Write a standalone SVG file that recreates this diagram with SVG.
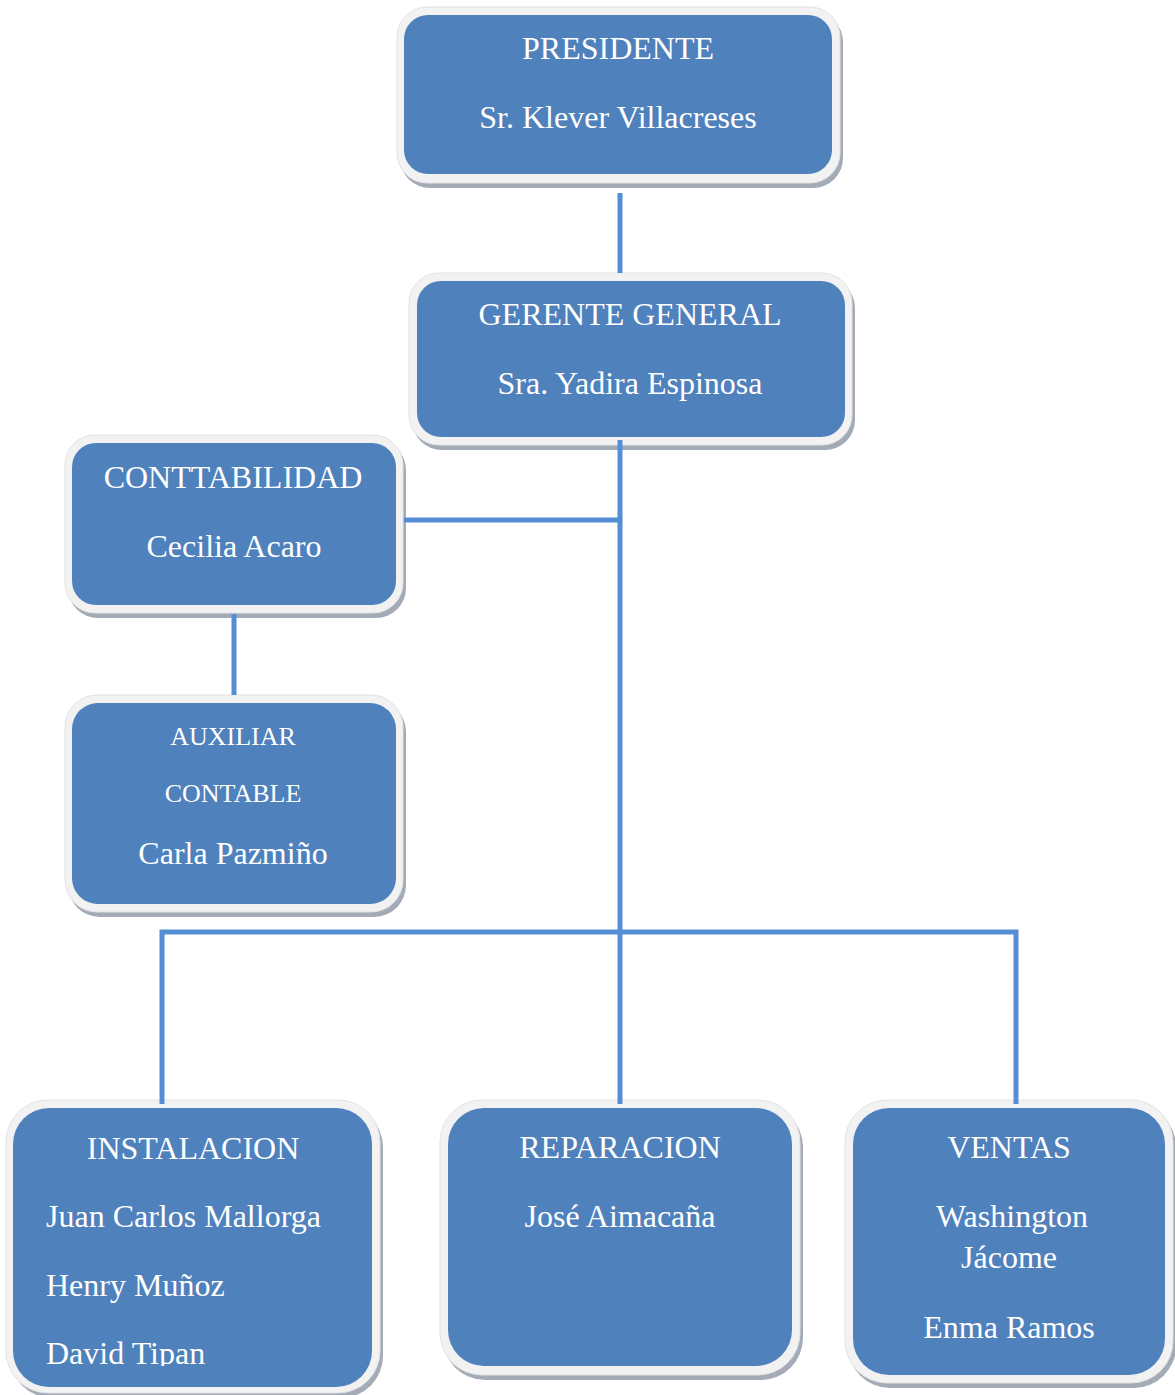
<svg xmlns="http://www.w3.org/2000/svg" width="1175" height="1395" viewBox="0 0 1175 1395">
<style>
.sh{fill:#a3abb7}
.out{fill:#f2f2f2;stroke:#e3e3e3;stroke-width:1}
.in{fill:#4f81bd}
.t{font-family:"Liberation Serif","Times New Roman",serif;font-size:32px;fill:#ffffff}
.c{text-anchor:middle}
.s{font-size:26px}
.ln{stroke:#558ed5;stroke-width:5;fill:none}
</style>
<defs>
<clipPath id="clipInst"><rect x="13" y="1108" width="359" height="258"/></clipPath>
</defs>
<rect width="1175" height="1395" fill="#ffffff"/>
<g id="presidente">
<rect class="sh" x="400" y="12" width="443" height="176" rx="30"/>
<rect class="out" x="397" y="7" width="443" height="176" rx="30"/>
<rect class="in" x="404" y="15" width="428" height="159" rx="24"/>
<text class="t c" x="618" y="59">PRESIDENTE</text>
<text class="t c" x="618" y="128">Sr. Klever Villacreses</text>
</g>
<g id="gerente">
<rect class="sh" x="412" y="278" width="443" height="172" rx="30"/>
<rect class="out" x="409" y="273" width="443" height="172" rx="30"/>
<rect class="in" x="417" y="281" width="428" height="156" rx="24"/>
<text class="t c" x="630" y="325">GERENTE GENERAL</text>
<text class="t c" x="630" y="394">Sra. Yadira Espinosa</text>
</g>
<g id="contabilidad">
<rect class="sh" x="68" y="440" width="338" height="178" rx="30"/>
<rect class="out" x="65" y="435" width="338" height="178" rx="30"/>
<rect class="in" x="72" y="443" width="324" height="162" rx="24"/>
<text class="t c" x="233" y="488">CONTTABILIDAD</text>
<text class="t c" x="234" y="557">Cecilia Acaro</text>
</g>
<g id="auxiliar">
<rect class="sh" x="68" y="700" width="338" height="217" rx="32"/>
<rect class="out" x="65" y="695" width="338" height="217" rx="32"/>
<rect class="in" x="72" y="703" width="324" height="201" rx="26"/>
<text class="t c s" x="233" y="745">AUXILIAR</text>
<text class="t c s" x="233" y="802">CONTABLE</text>
<text class="t c" x="233" y="864">Carla Pazmiño</text>
</g>
<g id="instalacion">
<rect class="sh" x="10" y="1105" width="373" height="293" rx="42"/>
<rect class="out" x="6" y="1100" width="374" height="293" rx="42"/>
<rect class="in" x="13" y="1108" width="359" height="279" rx="36"/>
<g clip-path="url(#clipInst)">
<text class="t c" x="193" y="1159">INSTALACION</text>
<text class="t" x="46" y="1227">Juan Carlos Mallorga</text>
<text class="t" x="46" y="1296">Henry Muñoz</text>
<text class="t" x="46" y="1364">David Tipan</text>
</g>
</g>
<g id="reparacion">
<rect class="sh" x="443" y="1105" width="360" height="275" rx="42"/>
<rect class="out" x="440" y="1100" width="360" height="275" rx="42"/>
<rect class="in" x="448" y="1108" width="344" height="258" rx="36"/>
<text class="t c" x="620" y="1158">REPARACION</text>
<text class="t c" x="620" y="1227">José Aimacaña</text>
</g>
<g id="ventas">
<rect class="sh" x="848" y="1105" width="328" height="283" rx="42"/>
<rect class="out" x="845" y="1100" width="328" height="283" rx="42"/>
<rect class="in" x="853" y="1108" width="312" height="267" rx="36"/>
<text class="t c" x="1009" y="1158">VENTAS</text>
<text class="t c" x="1012" y="1227">Washington</text>
<text class="t c" x="1009" y="1268">Jácome</text>
<text class="t c" x="1009" y="1338">Enma Ramos</text>
</g>
<g id="connectors">
<line class="ln" x1="620" y1="193" x2="620" y2="273"/>
<line class="ln" x1="620" y1="440" x2="620" y2="1104"/>
<line class="ln" x1="404" y1="520" x2="620" y2="520"/>
<line class="ln" x1="234" y1="614" x2="234" y2="695"/>
<polyline class="ln" points="162,1104 162,932 1016,932 1016,1104"/>
</g>
</svg>
